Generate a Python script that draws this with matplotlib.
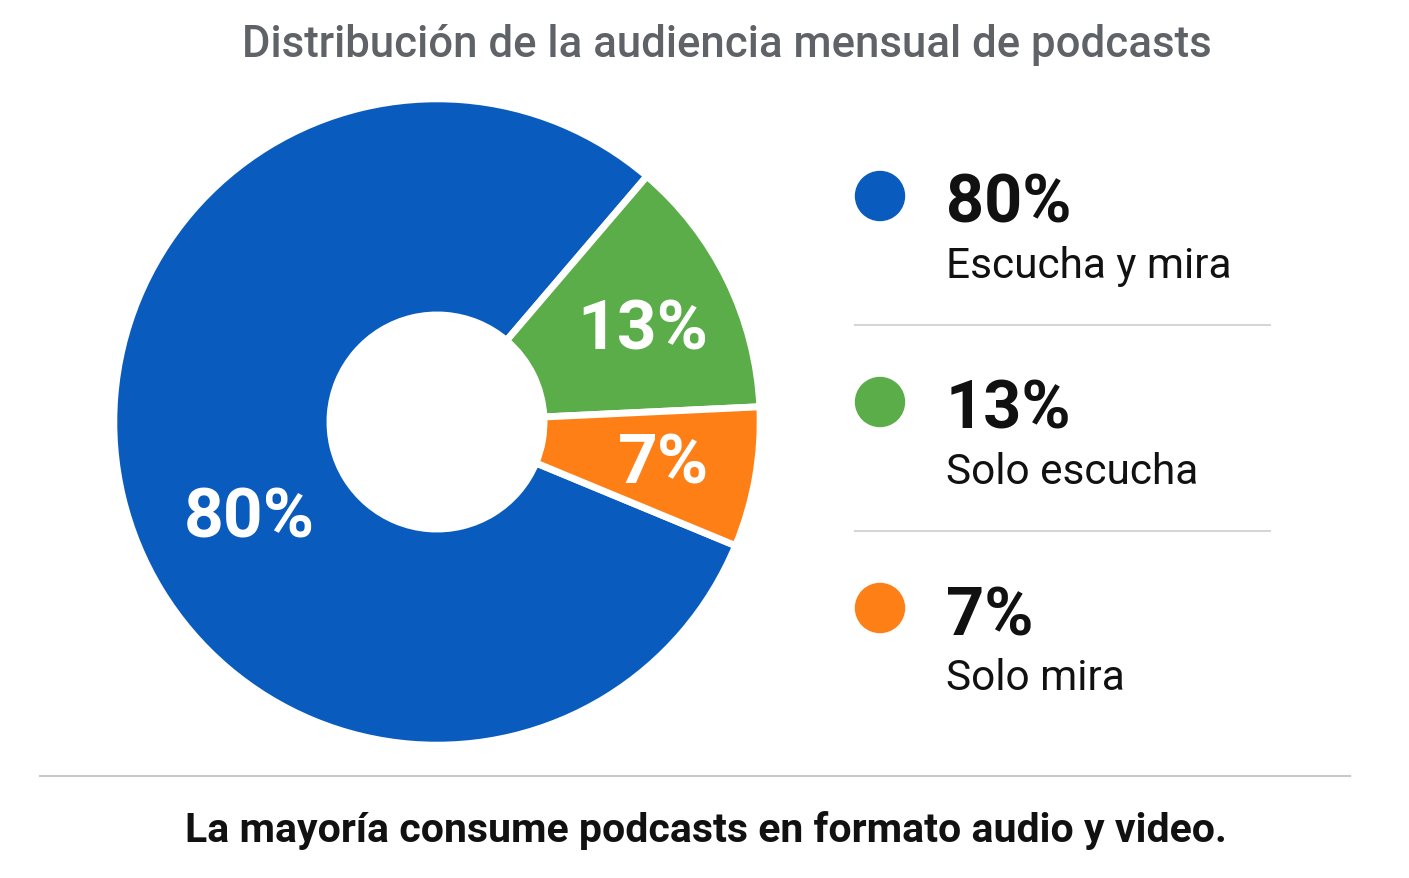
import numpy as np
import matplotlib
matplotlib.use("Agg")
import matplotlib.pyplot as plt

plt.rcParams['font.family'] = ['Roboto', 'DejaVu Sans']

# Data
categories = ['Escucha y mira', 'Solo escucha', 'Solo mira']
shares = [80, 13, 7]
colors = ['#0A5BBE', '#5AAD48', '#FE7F15']

title = 'Distribución de la audiencia mensual de podcasts'
footer = 'La mayoría consume podcasts en formato audio y video.'

W, H = 1409, 879
fig = plt.figure(figsize=(W / 100, H / 100), dpi=100)
fig.patch.set_facecolor('white')


def fx(px):
    return px / W


def fy(py):
    return 1 - py / H


# Donut
cx, cy, R = 437, 423, 320
ax = fig.add_axes([fx(cx - R), fy(cy + R), 2 * R / W, 2 * R / H])
wedges, _ = ax.pie(shares, colors=colors, startangle=-22.5, counterclock=False,
                   radius=1.01,
                   wedgeprops=dict(width=1.01 - 107 / 320, edgecolor='white',
                                   linewidth=5))
ax.set_xlim(-1, 1)
ax.set_ylim(-1, 1)
ax.set_aspect('equal')
ax.axis('off')

# Labels inside wedges (angle, radius)
label_pos = [(207.0, 0.66), (24.0, 0.705), (-10.5, 0.72)]
for val, (ang, r) in zip(shares, label_pos):
    a = np.deg2rad(ang)
    ax.text(r * np.cos(a), r * np.sin(a), f'{val}%', color='white',
            fontsize=50, fontweight='bold', ha='center', va='center')

# Title
fig.text(fx(727), fy(45), title, color='#5f6368', fontsize=31.5,
         fontweight='medium', ha='center', va='center')

# Legend on the right
row_y = [197, 403, 609]
for i, (cat, val, col) in enumerate(zip(categories, shares, colors)):
    y = row_y[i]
    fig.patches.append(plt.Circle((880, H - y), 24.5, color=col,
                                  transform=None, figure=fig))
    fig.text(fx(946), fy(y + 26), f'{val}%', color='#111111', fontsize=48,
             fontweight='bold', ha='left', va='baseline')
    fig.text(fx(946), fy(y + 81), cat, color='#111111', fontsize=30.5,
             ha='left', va='baseline')

for y in [326, 532]:
    fig.add_artist(plt.Line2D([fx(855), fx(1270)], [fy(y), fy(y)],
                              color='#d6d6d6', linewidth=1.5))

# Footer
fig.add_artist(plt.Line2D([fx(40), fx(1350)], [fy(777), fy(777)],
                          color='#c8c8c8', linewidth=1.5))
fig.text(fx(706), fy(831), footer, color='#111111', fontsize=29.5,
         fontweight='bold', ha='center', va='center')

fig.savefig('out.png', dpi=100, facecolor='white')
